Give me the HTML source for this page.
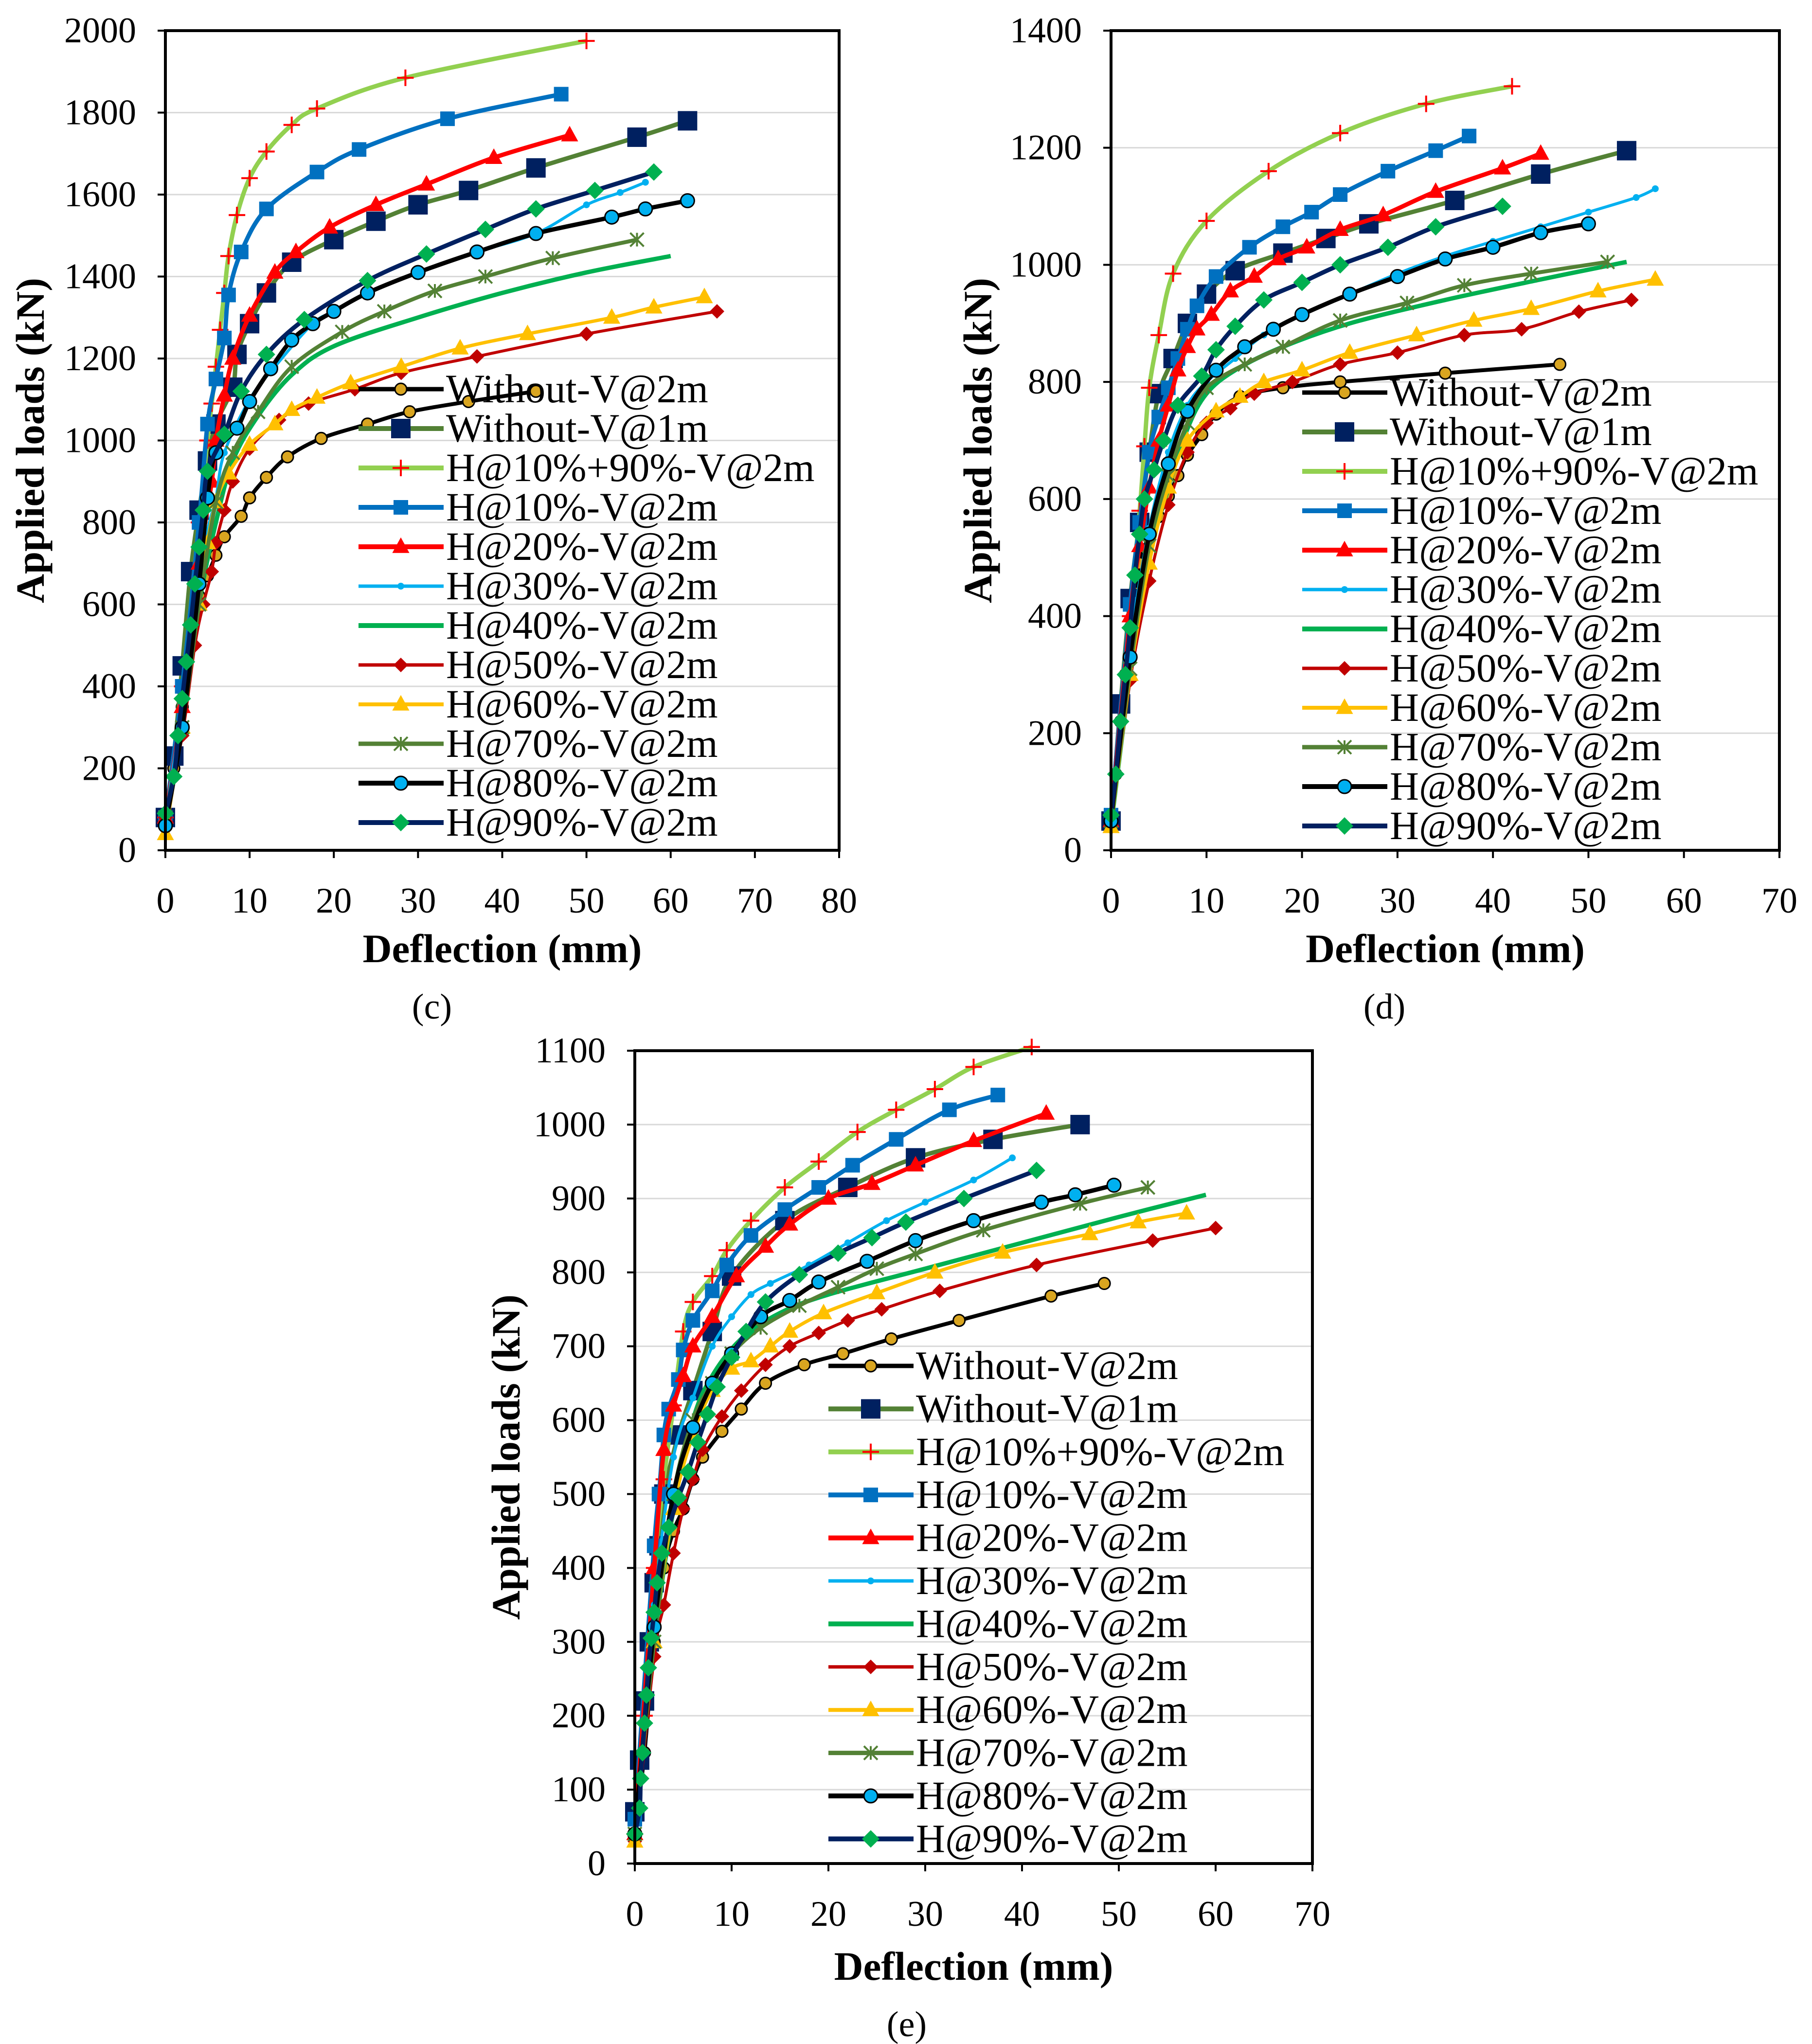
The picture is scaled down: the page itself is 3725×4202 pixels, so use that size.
<!DOCTYPE html>
<html><head><meta charset="utf-8">
<style>
html,body{margin:0;padding:0;background:#fff;}
svg{display:block;font-family:"Liberation Serif",serif;}
</style></head>
<body>
<svg id="fig" width="3725" height="4202" viewBox="0 0 3725 4202" xmlns="http://www.w3.org/2000/svg"></svg>
<script>
// ---- series names & styles ----
const seriesNames = ["Without-V@2m","Without-V@1m","H@10%+90%-V@2m","H@10%-V@2m","H@20%-V@2m","H@30%-V@2m","H@40%-V@2m","H@50%-V@2m","H@60%-V@2m","H@70%-V@2m","H@80%-V@2m","H@90%-V@2m"];
const seriesKeys = ["without-v2m","without-v1m","h10-90","h10","h20","h30","h40","h50","h60","h70","h80","h90"];

// ---- chart (c) data: [deflection mm, load kN] ----
const cX0 = [0,1,2,3,4,5,6,7,9,10,12,14.5,18.5,24,29,36,44];
const cY0 = [80,200,350,500,620,670,720,765,815,860,910,960,1005,1040,1070,1095,1120];
const cX1 = [0,1,2,3,4,5,6,8,8.5,10,12,15,20,25,30,36,44,56,62];
const cY1 = [80,230,450,680,830,950,1040,1130,1210,1285,1360,1435,1490,1535,1575,1610,1665,1740,1780];
const cX2 = [0,2,4,5,5.5,6,6.5,7,7.5,8.5,10,12,15,18,28.5,50];
const cY2 = [80,400,800,1000,1090,1180,1270,1360,1450,1550,1640,1705,1770,1810,1885,1975];
const cX3 = [0,2,4,5,6,7,7.5,9,12,18,23,33.5,47];
const cY3 = [80,400,800,1040,1150,1250,1355,1460,1565,1655,1710,1785,1845];
const cX4 = [0,2,4,5.5,6,7,8,10,13,15.5,19.5,25,31,39,48];
const cY4 = [80,350,700,900,1000,1110,1200,1305,1410,1460,1520,1575,1625,1690,1745];
const cX5 = [0,2,4,5,6,7,10,13,17.5,20,24,30,37,44,50,54,57];
const cY5 = [80,350,650,780,860,970,1100,1180,1285,1315,1360,1410,1460,1505,1575,1605,1630];
const cX6 = [0,2,4,6,8,11,15,20,30,40,50,60];
const cY6 = [80,300,600,800,950,1060,1160,1230,1300,1360,1410,1450];
const cX7 = [0,2,3.5,4.5,5.5,6,7,8,10,13.5,17,22.5,28,37,50,65.5];
const cY7 = [80,280,500,600,680,750,830,900,980,1050,1090,1125,1165,1205,1260,1315];
const cX8 = [0,2,4,5,6,7.5,10,13,15,18,22,28,35,43,53,58,64];
const cY8 = [40,300,600,750,850,920,990,1040,1075,1105,1140,1180,1225,1260,1300,1325,1350];
const cX9 = [0,2,4,6,8,11,15,21,26,32,38,46,56];
const cY9 = [80,300,600,850,970,1070,1180,1265,1315,1365,1400,1445,1490];
const cX10 = [0,2,4,5,6,8.5,10,12.5,15,17.5,20,24,30,37,44,53,57,62];
const cY10 = [60,300,650,860,970,1030,1095,1175,1245,1285,1315,1360,1410,1460,1505,1545,1565,1585];
const cX11 = [0,1,1.5,2,2.5,3,3.5,4,4.5,5,7,9,12,16.5,24,31,38,44,51,58];
const cY11 = [90,180,280,370,460,550,650,740,830,925,1015,1120,1210,1295,1390,1455,1515,1565,1610,1655];

// ---- chart (d) data ----
const dX0 = [0,0.5,1,1.5,2,2.5,3,4,5,6,7,8,9.5,11,13.5,18,24,35,47];
const dY0 = [40,130,220,300,380,440,490,540,570,605,640,675,710,745,775,790,800,815,830];
const dX1 = [0,1,2,3,4,5,6.5,8,10,13,18,22.5,27,36,45,54];
const dY1 = [50,250,430,560,680,780,840,900,950,990,1020,1045,1070,1110,1155,1195];
const dX2 = [0,2,3,3.5,4,5,6.5,10,16.5,24,33,42];
const dY2 = [60,400,580,690,790,880,985,1075,1160,1225,1275,1305];
const dX3 = [0,2,3,4,5,6,7,8,9,11,14.5,18,21,24,29,34,37.5];
const dY3 = [60,420,560,680,740,790,840,890,930,980,1030,1065,1090,1120,1160,1195,1220];
const dX4 = [0,2,3,4,5,6,7,8,9,10.5,12.5,15,17.5,20.5,24,28.5,34,41,45];
const dY4 = [50,400,520,620,700,760,820,860,890,915,955,980,1010,1030,1060,1085,1125,1165,1190];
const dX5 = [0,2,4,6,8,10,13,16,20,25,30,35,40,45,50,55,57];
const dY5 = [60,350,550,680,760,800,840,880,915,950,985,1015,1040,1065,1090,1115,1130];
const dX6 = [0,2,4,6,8,10,13,18,25,35,45,54];
const dY6 = [40,300,500,620,720,780,820,860,900,940,975,1005];
const dX7 = [0,2,4,6,8,10,12.5,15,19,24,30,37,43,49,54.5];
const dY7 = [40,290,460,590,680,730,755,780,800,830,850,880,890,920,940];
const dX8 = [0,2,4,6,8,11,13.5,16,20,25,32,38,44,51,57];
const dY8 = [40,300,490,620,700,750,775,800,820,850,880,905,925,955,975];
const dX9 = [0,2,4,6,8,10,14,18,24,31,37,44,52];
const dY9 = [50,310,520,640,730,790,830,860,905,935,965,985,1005];
const dX10 = [0,2,4,6,8,11,14,17,20,25,30,35,40,45,50];
const dY10 = [50,330,540,660,750,820,860,890,915,950,980,1010,1030,1055,1070];
const dX11 = [0,0.5,1,1.5,2,2.5,3,3.5,4.5,5.5,7,9.5,11,13,16,20,24,29,34,41];
const dY11 = [60,130,220,300,380,470,540,600,650,700,760,810,855,895,940,970,1000,1030,1065,1100];

// ---- chart (e) data ----
const eX0 = [0,1,2,3,4,5,6,7,9,11,13.5,17.5,21.5,26.5,33.5,43,48.5];
const eY0 = [40,150,300,400,450,480,520,550,585,615,650,675,690,710,735,768,785];
const eX1 = [0,0.5,1,1.5,2,2.5,3,4.5,6,8,10,15.5,22,29,37,46];
const eY1 = [70,140,220,300,380,430,500,580,640,720,795,870,915,955,980,1000];
const eX2 = [0,1,2,3,4,5,6,8,9.5,12,15.5,19,23,27,31,35,41];
const eY2 = [40,200,400,520,620,720,760,795,830,870,915,950,990,1020,1048,1078,1105];
const eX3 = [0,2,2.5,3,3.5,4.5,5,6,8,9.5,12,15.5,19,22.5,27,32.5,37.5];
const eY3 = [60,430,500,580,615,655,695,735,775,810,850,885,915,945,980,1020,1040];
const eX4 = [0,2,3,4,5,6,8,10.5,13.5,16,20,24.5,29,35,42.5];
const eY4 = [40,400,560,620,660,700,740,795,835,865,900,920,945,978,1015];
const eX5 = [0,2,4,6,8,10,12,14,18,22,26,30,35,39];
const eY5 = [40,350,550,630,700,740,770,785,810,840,870,895,925,955];
const eX6 = [0,2,4,6,8,11,15,20,30,40,50,59];
const eY6 = [40,300,480,600,660,710,745,770,805,840,875,905];
const eX7 = [0,2,3,4,5,6,7,9,11,13.5,16,19,22,25.5,31.5,41.5,53.5,60];
const eY7 = [30,280,350,420,480,520,560,605,640,675,700,718,735,750,775,810,843,860];
const eX8 = [0,2,4,6,8,10,12,14,16,19.5,25,31,38,47,52,57];
const eY8 = [30,300,480,580,640,670,680,700,720,745,772,800,827,852,868,880];
const eX9 = [0,2,4,6,8,10,13,17,21,25,29,36,46,53];
const eY9 = [40,300,500,600,650,690,725,755,780,805,825,857,893,915];
const eX10 = [0,2,4,6,8,10,13,16,19,24,29,35,42,45.5,49.5];
const eY10 = [40,320,500,590,650,690,740,762,787,815,843,870,895,905,918];
const eX11 = [0,0.5,0.6,0.8,1,1.2,1.4,1.7,2,2.3,2.8,3.5,4.5,5.5,6.5,7.5,8.5,10,11.5,13.5,17,21,24.5,28,34,41.5];
const eY11 = [40,75,115,150,190,228,265,305,340,380,420,455,495,530,570,608,645,685,720,760,797,826,847,868,900,938];

// ---- axis tick arrays ----
const cXTicks = [0,10,20,30,40,50,60,70,80];
const cYTicks = [0,200,400,600,800,1000,1200,1400,1600,1800,2000];
const dXTicks = [0,10,20,30,40,50,60,70];
const dYTicks = [0,200,400,600,800,1000,1200,1400];
const eXTicks = [0,10,20,30,40,50,60,70];
const eYTicks = [0,100,200,300,400,500,600,700,800,900,1000,1100];

const NS = "http://www.w3.org/2000/svg";
const svg = document.getElementById('fig');
function mk(tag, attrs, parent){
  const e = document.createElementNS(NS, tag);
  for (const k in attrs) e.setAttribute(k, attrs[k]);
  (parent||svg).appendChild(e);
  return e;
}
const styles = [
  {c:"#000000", m:"circle", f:"#d9a520", s:12, w:8},
  {c:"#538135", m:"square", f:"#002060", s:40, w:9},
  {c:"#92d050", m:"plus", f:"#ff0000", s:34, w:9},
  {c:"#0070c0", m:"square", f:"#0070c0", s:30, w:9},
  {c:"#ff0000", m:"triangle", f:"#ff0000", s:32, w:9},
  {c:"#00b0f0", m:"dot", f:"#00b0f0", s:7, w:6},
  {c:"#00b050", m:"none", f:"#00b050", s:0, w:9},
  {c:"#c00000", m:"diamond", f:"#c00000", s:30, w:6},
  {c:"#ffc000", m:"triangle", f:"#ffc000", s:32, w:7},
  {c:"#538135", m:"star", f:"#538135", s:28, w:8},
  {c:"#000000", m:"circle", f:"#00b0f0", s:14, w:9},
  {c:"#002060", m:"diamond", f:"#00b050", s:36, w:9}
];
function marker(g, st, x, y){
  const s = st.s;
  let e;
  if (st.m==="circle"){ e = mk('circle',{cx:x,cy:y,r:s,fill:st.f,stroke:"#000",'stroke-width':3},g); }
  else if (st.m==="dot"){ e = mk('circle',{cx:x,cy:y,r:s,fill:st.f},g); }
  else if (st.m==="square"){ e = mk('rect',{x:x-s/2,y:y-s/2,width:s,height:s,fill:st.f},g); }
  else if (st.m==="triangle"){ e = mk('polygon',{points:`${x},${y-s*0.6} ${x-s*0.55},${y+s*0.4} ${x+s*0.55},${y+s*0.4}`,fill:st.f},g); }
  else if (st.m==="diamond"){ e = mk('polygon',{points:`${x},${y-s/2} ${x+s/2},${y} ${x},${y+s/2} ${x-s/2},${y}`,fill:st.f},g); }
  else if (st.m==="plus"){ e = mk('path',{d:`M${x-s/2},${y}H${x+s/2}M${x},${y-s/2}V${y+s/2}`,stroke:st.f,'stroke-width':4,fill:"none"},g); }
  else if (st.m==="star"){ const h=s/2; e = mk('path',{d:`M${x-h},${y-h}L${x+h},${y+h}M${x+h},${y-h}L${x-h},${y+h}M${x},${y-h}V${y+h}`,stroke:st.f,'stroke-width':4,fill:"none"},g); }
  if (e){
    
    
  }
}
function smoothPath(pts){
  let d = `M${pts[0][0]},${pts[0][1]}`;
  for (let i=0;i<pts.length-1;i++){
    const p0=pts[Math.max(0,i-1)], p1=pts[i], p2=pts[i+1], p3=pts[Math.min(pts.length-1,i+2)];
    const c1x=p1[0]+(p2[0]-p0[0])/6, c1y=p1[1]+(p2[1]-p0[1])/6;
    const c2x=p2[0]-(p3[0]-p1[0])/6, c2y=p2[1]-(p3[1]-p1[1])/6;
    d += ` C${c1x},${c1y} ${c2x},${c2y} ${p2[0]},${p2[1]}`;
  }
  return d;
}
function chart(cfg){
  const g = mk('g',{});
  
  
  const {x0,x1,y0,y1,xmax,ymax} = cfg;
  const sx = v => x0 + v/xmax*(x1-x0);
  const sy = v => y0 - v/ymax*(y0-y1);
  cfg.yTicks.forEach(t=>{
    if (t>0){ const l = mk('line',{x1:x0,x2:x1,y1:sy(t),y2:sy(t),stroke:"#d9d9d9",'stroke-width':3},g);
        }
    const tk = mk('line',{x1:x0-16,x2:x0,y1:sy(t),y2:sy(t),stroke:"#000",'stroke-width':4},g);
     
    const tx = mk('text',{x:x0-60,y:sy(t)+24,'text-anchor':'end','font-size':74},g);
    tx.textContent = t;
     
  });
  cfg.xTicks.forEach(t=>{
    const tk = mk('line',{x1:sx(t),x2:sx(t),y1:y0,y2:y0+16,stroke:"#000",'stroke-width':4},g);
     
    const tx = mk('text',{x:sx(t),y:y0+128,'text-anchor':'middle','font-size':74},g);
    tx.textContent = t;
     
  });
  cfg.xs.forEach((xs,i)=>{
    const ys = cfg.ys[i]; const st = styles[i];
    const sg = mk('g',{},g);
    
    
    const pts = xs.map((v,j)=>[sx(v), sy(ys[j])]);
    const p = mk('path',{d:smoothPath(pts),fill:'none',stroke:st.c,'stroke-width':st.w,'stroke-linejoin':'round'},sg);
    
    
    pts.forEach(q=>marker(sg,st,q[0],q[1]));
  });
  const b = mk('rect',{x:x0,y:y1,width:x1-x0,height:y0-y1,fill:'none',stroke:'#000','stroke-width':6},g);
   
  const lg = mk('g',{},g);
   
  seriesNames.forEach((n,i)=>{
    const st = styles[i]; const y = cfg.ly + i*cfg.lsp;
    const eg = mk('g',{},lg);
     
    mk('line',{x1:cfg.lx,x2:cfg.lx+175,y1:y,y2:y,stroke:st.c,'stroke-width':st.w+1},eg);
    marker(eg,st,cfg.lx+87,y);
    const t = mk('text',{x:cfg.lx+180,y:y+27,'font-size':83},eg);
    t.textContent = n;
  });
  const xt = mk('text',{x:(x0+x1)/2,y:cfg.xty,'text-anchor':'middle','font-size':83,'font-weight':'bold'},g);
  xt.textContent = 'Deflection (mm)';
   
  const yt = mk('text',{x:0,y:0,'text-anchor':'middle','font-size':83,'font-weight':'bold',transform:`translate(${cfg.ytx},${(y0+y1)/2}) rotate(-90)`},g);
  yt.textContent = 'Applied loads (kN)';
   
  const pl = mk('text',{x:cfg.px,y:cfg.py,'text-anchor':'middle','font-size':74},g);
  pl.textContent = cfg.label;
   
}
chart({name:'chart-c',x0:340,x1:1725,y0:1748,y1:63,xmax:80,ymax:2000,xTicks:cXTicks,yTicks:cYTicks,
  xs:[cX0,cX1,cX2,cX3,cX4,cX5,cX6,cX7,cX8,cX9,cX10,cX11],ys:[cY0,cY1,cY2,cY3,cY4,cY5,cY6,cY7,cY8,cY9,cY10,cY11],
  lx:737,ly:800,lsp:81,xty:1978,ytx:90,label:'(c)',px:888,py:2094});
chart({name:'chart-d',x0:2284,x1:3658,y0:1748,y1:63,xmax:70,ymax:1400,xTicks:dXTicks,yTicks:dYTicks,
  xs:[dX0,dX1,dX2,dX3,dX4,dX5,dX6,dX7,dX8,dX9,dX10,dX11],ys:[dY0,dY1,dY2,dY3,dY4,dY5,dY6,dY7,dY8,dY9,dY10,dY11],
  lx:2677,ly:807,lsp:81,xty:1978,ytx:2038,label:'(d)',px:2846,py:2094});
chart({name:'chart-e',x0:1305,x1:2698,y0:3831,y1:2160,xmax:70,ymax:1100,xTicks:eXTicks,yTicks:eYTicks,
  xs:[eX0,eX1,eX2,eX3,eX4,eX5,eX6,eX7,eX8,eX9,eX10,eX11],ys:[eY0,eY1,eY2,eY3,eY4,eY5,eY6,eY7,eY8,eY9,eY10,eY11],
  lx:1703,ly:2808,lsp:88.4,xty:4070,ytx:1068,label:'(e)',px:1864,py:4186});
</script>
</body></html>
